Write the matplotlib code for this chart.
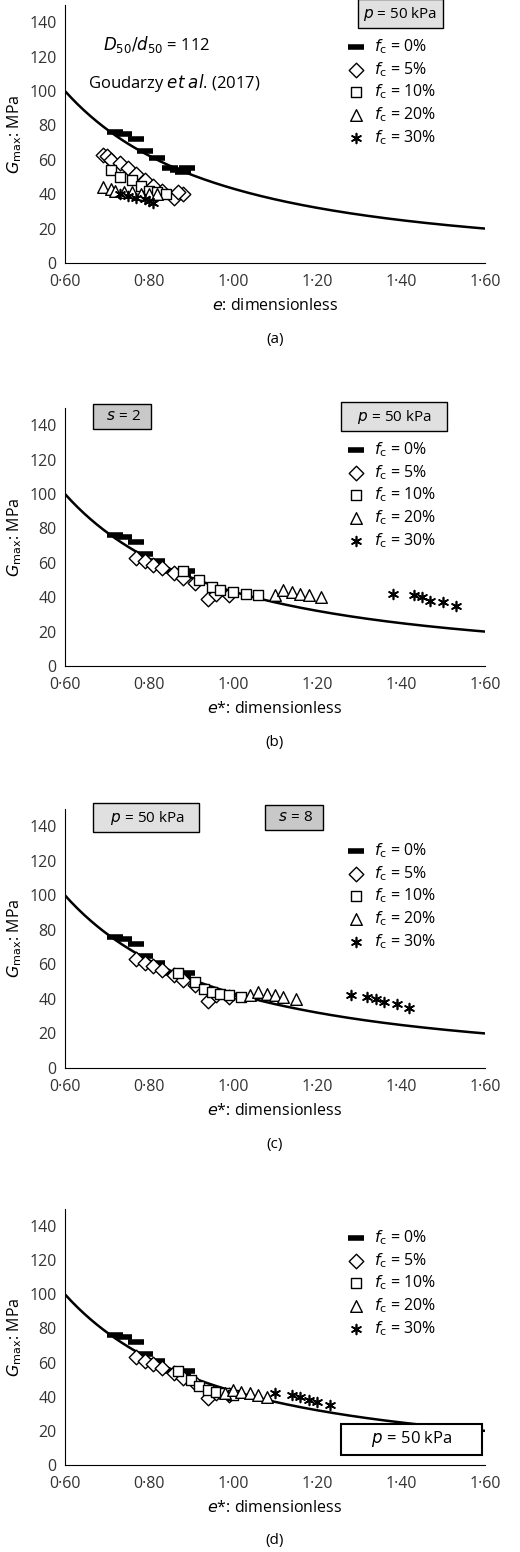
import matplotlib.pyplot as plt
import numpy as np

plt.rcParams['font.family'] = ['Open Sans', 'DejaVu Sans']
plt.rcParams['font.size'] = 11

# fitted curve G = 100 * (e / 0.6) ** -k
curve_a, curve_k = 100.0, 1.64

fc0_e = [0.72, 0.74, 0.77, 0.79, 0.82, 0.85, 0.87, 0.89, 0.88]
fc0_g = [76, 75, 72, 65, 61, 55, 54, 55, 53]

a_fc5_e = [0.69, 0.70, 0.71, 0.73, 0.75, 0.77, 0.79, 0.81, 0.83, 0.86, 0.88, 0.87]
a_fc5_g = [63, 62, 60, 58, 55, 52, 48, 45, 42, 38, 40, 41]
a_fc10_e = [0.71, 0.73, 0.76, 0.78, 0.80, 0.82, 0.84]
a_fc10_g = [54, 50, 48, 45, 42, 41, 40]
a_fc20_e = [0.69, 0.71, 0.72, 0.74, 0.76, 0.78, 0.80, 0.82]
a_fc20_g = [44, 43, 42, 41, 41, 40, 40, 40]
a_fc30_e = [0.73, 0.75, 0.77, 0.79, 0.80, 0.81]
a_fc30_g = [40, 39, 38, 37, 36, 35]

fc5_e = [0.77, 0.79, 0.81, 0.83, 0.86, 0.88, 0.91, 0.94, 0.96, 0.99]
fc5_g = [63, 61, 59, 57, 54, 51, 48, 39, 42, 41]
b_fc10_e = [0.88, 0.92, 0.95, 0.97, 1.00, 1.03, 1.06]
b_fc10_g = [55, 50, 46, 44, 43, 42, 41]
b_fc20_e = [1.10, 1.12, 1.14, 1.16, 1.18, 1.21]
b_fc20_g = [41, 44, 43, 42, 41, 40]
b_fc30_e = [1.38, 1.43, 1.45, 1.47, 1.50, 1.53]
b_fc30_g = [42, 41, 40, 38, 37, 35]

c_fc10_e = [0.87, 0.91, 0.93, 0.95, 0.97, 0.99, 1.02]
c_fc10_g = [55, 50, 46, 44, 43, 42, 41]
c_fc20_e = [1.04, 1.06, 1.08, 1.10, 1.12, 1.15]
c_fc20_g = [42, 44, 43, 42, 41, 40]
c_fc30_e = [1.28, 1.32, 1.34, 1.36, 1.39, 1.42]
c_fc30_g = [42, 41, 40, 38, 37, 35]

d_fc10_e = [0.87, 0.90, 0.92, 0.94, 0.96, 0.98, 1.00]
d_fc10_g = [55, 50, 46, 44, 43, 42, 41]
d_fc20_e = [0.98, 1.00, 1.02, 1.04, 1.06, 1.08]
d_fc20_g = [42, 44, 43, 42, 41, 40]
d_fc30_e = [1.10, 1.14, 1.16, 1.18, 1.20, 1.23]
d_fc30_g = [42, 41, 40, 38, 37, 35]

panels = [
    dict(fc10=(a_fc10_e, a_fc10_g), fc5=(a_fc5_e, a_fc5_g), fc20=(a_fc20_e, a_fc20_g),
         fc30=(a_fc30_e, a_fc30_g), xlabel='$e$: dimensionless', tag='(a)'),
    dict(fc10=(b_fc10_e, b_fc10_g), fc5=(fc5_e, fc5_g), fc20=(b_fc20_e, b_fc20_g),
         fc30=(b_fc30_e, b_fc30_g), xlabel='$e$*: dimensionless', tag='(b)'),
    dict(fc10=(c_fc10_e, c_fc10_g), fc5=(fc5_e, fc5_g), fc20=(c_fc20_e, c_fc20_g),
         fc30=(c_fc30_e, c_fc30_g), xlabel='$e$*: dimensionless', tag='(c)'),
    dict(fc10=(d_fc10_e, d_fc10_g), fc5=(fc5_e, fc5_g), fc20=(d_fc20_e, d_fc20_g),
         fc30=(d_fc30_e, d_fc30_g), xlabel='$e$*: dimensionless', tag='(d)'),
]
tops = [5, 408, 809, 1209]
bottoms = [263, 666, 1068, 1465]

W, H = 520, 1552
fig = plt.figure(figsize=(W / 100, H / 100), dpi=100)
ex = np.linspace(0.6, 1.6, 200)
gx = curve_a * (ex / 0.6) ** -curve_k

for i, p in enumerate(panels):
    ax = fig.add_axes([65 / W, 1 - bottoms[i] / H, 420 / W, (bottoms[i] - tops[i]) / H])
    ax.plot(ex, gx, color='black', lw=1.8, zorder=1)
    ax.scatter(fc0_e, fc0_g, marker='_', s=120, linewidths=4, color='black', label='$f_{\\mathrm{c}}$ = 0%')
    ax.scatter(*p['fc5'], marker='D', s=55, facecolor='white', edgecolor='black', lw=1, label='$f_{\\mathrm{c}}$ = 5%')
    ax.scatter(*p['fc10'], marker='s', s=60, facecolor='white', edgecolor='black', lw=1, label='$f_{\\mathrm{c}}$ = 10%')
    ax.scatter(*p['fc20'], marker='^', s=70, facecolor='white', edgecolor='black', lw=1, label='$f_{\\mathrm{c}}$ = 20%')
    ax.scatter(*p['fc30'], marker=(6, 2, 0), s=50, color='black', lw=1.2, label='$f_{\\mathrm{c}}$ = 30%')
    ax.set_xlim(0.6, 1.6)
    ax.set_ylim(0, 150)
    ax.set_yticks(range(0, 141, 20))
    ax.set_xticks([0.6, 0.8, 1.0, 1.2, 1.4, 1.6])
    ax.set_xticklabels(['0·60', '0·80', '1·00', '1·20', '1·40', '1·60'])
    ax.tick_params(length=0, labelsize=11.5, colors='#333333')
    ax.tick_params(axis='x', pad=8)
    ax.tick_params(axis='y', pad=6)
    for s in ['top', 'right']:
        ax.spines[s].set_visible(False)
    ax.set_ylabel('$G_{\\mathrm{max}}$: MPa', fontsize=11.5)
    ax.set_xlabel(p['xlabel'], fontsize=11.5, labelpad=6)
    ax.text(0.5, -0.31, p['tag'], transform=ax.transAxes, ha='center', fontsize=11)
    ax.legend(loc='upper left', bbox_to_anchor=(0.64, 0.9 if i != 3 else 0.95), frameon=False,
              handletextpad=0.1, labelspacing=0.25, fontsize=11.5, borderaxespad=0)

    box = dict(boxstyle='square,pad=0.35', fc='#e0e0e0', ec='black', lw=1)
    if i == 0:
        ax.text(1.31, 145, '$p$ = 50 kPa', ha='left', va='center', bbox=box)
        ax.text(0.69, 124, '$D_{50}/d_{50}$ = 112', fontsize=12)
        ax.text(0.655, 102, 'Goudarzy $et$ $al$. (2017)', fontsize=12)
    elif i == 1:
        ax.text(0.68, 145, '  $s$ = 2  ', ha='left', va='center', bbox=dict(box, fc='#c8c8c8'))
        ax.text(1.27, 145, '   $p$ = 50 kPa   ', ha='left', va='center', bbox=box)
    elif i == 2:
        ax.text(0.68, 145, '   $p$ = 50 kPa   ', ha='left', va='center', bbox=box)
        ax.text(1.09, 145, '  $s$ = 8  ', ha='left', va='center', bbox=dict(box, fc='#c8c8c8'))
    else:
        ax.text(1.27, 15, '      $p$ = 50 kPa      ', ha='left', va='center', fontsize=12,
                bbox=dict(box, fc='white', lw=1.5))

fig.savefig('out.png', dpi=100)
